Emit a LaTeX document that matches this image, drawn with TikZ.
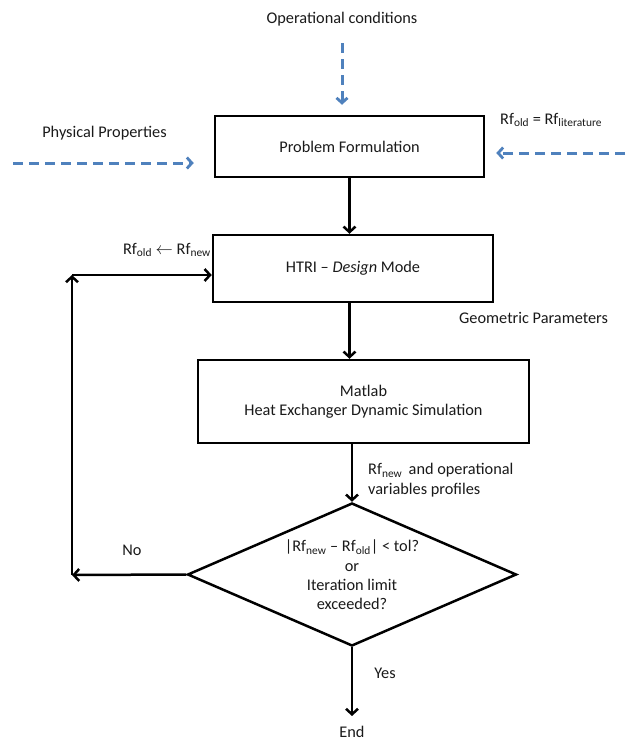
\documentclass[tikz,border=0pt]{standalone}
\usepackage{fontspec}
\setmainfont{Carlito}
\usetikzlibrary{arrows.meta,shapes.geometric}
\definecolor{dblue}{HTML}{4F81BD}
\definecolor{txt}{HTML}{1A1A1A}
\begin{document}
\begin{tikzpicture}[x=1pt,y=-1pt,
  every node/.style={font=\fontsize{16.3}{19.3}\selectfont, text=txt},
  boxnode/.style={draw=black, line width=2.5pt, inner sep=0pt},
  flow/.style={line width=2.5pt, -{Straight Barb[length=5.5pt,width=12pt,line width=2.5pt]}},
  dflow/.style={draw=dblue, line width=3pt, dash pattern=on 10pt off 6pt, -{Straight Barb[length=5pt,width=11pt,line width=2.8pt]}},
  lbl/.style={inner sep=0pt}]
\useasboundingbox[fill=white] (0,0) rectangle (625,742);

% boxes
\node[boxnode, minimum width=269pt, minimum height=61pt] (prob) at (349.5,146.5) {Problem Formulation};
\node[boxnode, minimum width=280pt, minimum height=67pt] (htri) at (353,268.5) {HTRI -- \textit{Design} Mode};
\node[boxnode, minimum width=331pt, minimum height=83pt, align=center] (mat) at (363.5,401.5) {Matlab\\Heat Exchanger Dynamic Simulation};
\node[draw=black, line width=2.5pt, diamond, minimum width=329pt, minimum height=143pt, inner sep=0pt] (dia) at (352,574.5) {};
\node[lbl, align=center] (diatxt) at (352,575) {|Rf\textsubscript{new} -- Rf\textsubscript{old}| < tol?\\or\\Iteration limit\\exceeded?};

% labels
\node[lbl] (op) at (342,19) {Operational conditions};
\node[lbl] (phys) at (104.5,133) {Physical Properties};
\node[lbl, anchor=west] (lit) at (500,120) {Rf\textsubscript{old} = Rf\textsubscript{literature}};
\node[lbl, anchor=east] (upd) at (211,250) {Rf\textsubscript{old} $\leftarrow$ Rf\textsubscript{new}};
\node[lbl, anchor=west] (geo) at (459,318) {Geometric Parameters};
\node[lbl, anchor=west, align=left] (prof) at (368,480) {Rf\textsubscript{new}\, and operational\\variables profiles};
\node[lbl] (no) at (132,550) {No};
\node[lbl] (yes) at (385,673) {Yes};
\node[lbl, anchor=base] (endn) at (352,737.5) {End};

% coordinates
\coordinate (physL) at (13,163);
\coordinate (litR) at (625,153);
\coordinate (loopB) at (72,575);
\coordinate (loopT) at (72,275);

% dashed inputs
\draw[dflow, shorten <=17pt, shorten >=10pt] (op.south) -- (op.south |- prob.north);
\draw[dflow, shorten >=20pt] (physL) -- (physL -| prob.west);
\draw[dflow, shorten >=11pt] (litR) -- (litR -| prob.east);

% main flow
\draw[flow] (prob.south) -- (prob.south |- htri.north);
\draw[flow] (htri.south -| prob.south) -- (prob.south |- mat.north);
\draw[flow] (dia.north |- mat.south) -- (dia.north);
\draw[flow, shorten >=10pt] (dia.south) -- (dia.south |- endn.north);

% loop
\draw[flow] (dia.west) -- (loopB);
\draw[flow] (loopB) -- (loopT);
\draw[flow] (loopT) -- (loopT -| htri.west);
\end{tikzpicture}
\end{document}
